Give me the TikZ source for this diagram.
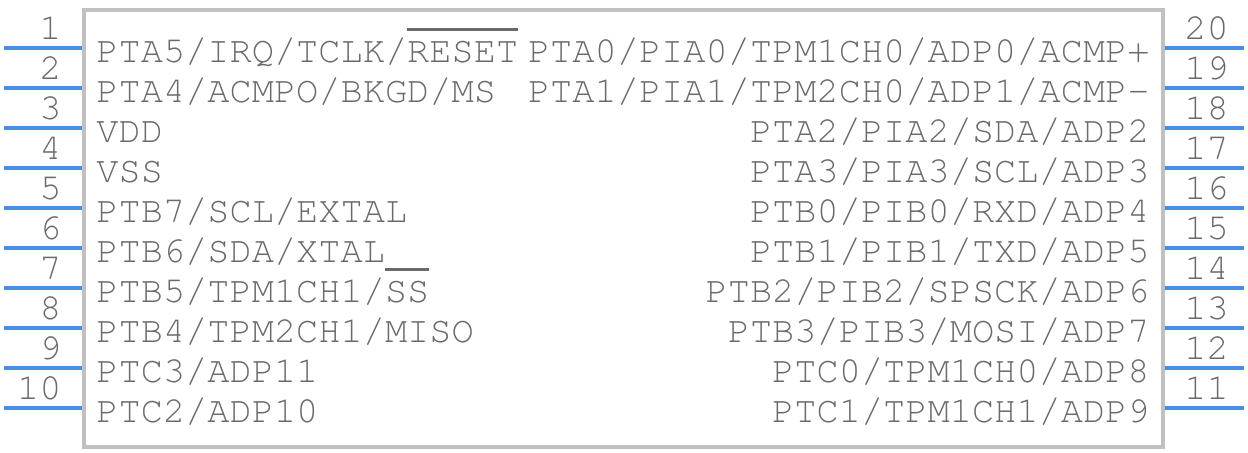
\documentclass[tikz,border=0pt]{standalone}
\usepackage{fontspec}
\newfontfamily\pinfont{TeX Gyre Cursor}
\definecolor{pinblue}{HTML}{4A90E2}
\definecolor{bodygray}{HTML}{C0C0C0}
\definecolor{textgray}{HTML}{6A6A6A}
\newcommand\ovl[1]{\vbox{\hrule height 1.2pt\kern 5pt\hbox{#1}}}

\begin{document}
\begin{tikzpicture}[x=0.5pt,y=-0.5pt,
	pin/.style={pinblue,line width=2pt},
	lbl/.style={textgray,inner sep=0pt,font=\pinfont\fontsize{18.5}{20}\selectfont}]

	\useasboundingbox (0,0) rectangle (1248,452);
	\coordinate (tl) at (84,10);
	\coordinate (br) at (1163,447);
	\draw[bodygray,line width=2pt] (tl) rectangle (br);

	\foreach \i in {1,...,10}{
		\pgfmathsetmacro{\yy}{8+40*\i}
		\pgfmathtruncatemacro{\j}{21-\i}
		\coordinate (p\i a) at (4,\yy);
		\coordinate (p\i b) at (82,\yy);
		\coordinate (p\j a) at (1165,\yy);
		\coordinate (p\j b) at (1244,\yy);
		\draw[pin] (p\i a) -- (p\i b);
		\draw[pin] (p\j a) -- (p\j b);
		\node[lbl,anchor=base east] (n\i) at (62,{\yy-9}) {\i};
		\node[lbl,anchor=base west] (n\j) at (1184,{\yy-9}) {\j};
	}

	\node[lbl,anchor=base west] (l1) at (96,62) {PTA5/IRQ/TCLK/\ovl{RESET}};
	\node[lbl,anchor=base west] (l2) at (96,102) {PTA4/ACMPO/BKGD/MS};
	\node[lbl,anchor=base west] (l3) at (96,142) {VDD};
	\node[lbl,anchor=base west] (l4) at (96,182) {VSS};
	\node[lbl,anchor=base west] (l5) at (96,222) {PTB7/SCL/EXTAL};
	\node[lbl,anchor=base west] (l6) at (96,262) {PTB6/SDA/XTAL};
	\node[lbl,anchor=base west] (l7) at (96,302) {PTB5/TPM1CH1/\ovl{SS}};
	\node[lbl,anchor=base west] (l8) at (96,342) {PTB4/TPM2CH1/MISO};
	\node[lbl,anchor=base west] (l9) at (96,382) {PTC3/ADP11};
	\node[lbl,anchor=base west] (l10) at (96,422) {PTC2/ADP10};

	\node[lbl,anchor=base east] (r20) at (1150,62) {PTA0/PIA0/TPM1CH0/ADP0/ACMP+};
	\node[lbl,anchor=base east] (r19) at (1150,102) {PTA1/PIA1/TPM2CH0/ADP1/ACMP-};
	\node[lbl,anchor=base east] (r18) at (1150,142) {PTA2/PIA2/SDA/ADP2};
	\node[lbl,anchor=base east] (r17) at (1150,182) {PTA3/PIA3/SCL/ADP3};
	\node[lbl,anchor=base east] (r16) at (1150,222) {PTB0/PIB0/RXD/ADP4};
	\node[lbl,anchor=base east] (r15) at (1150,262) {PTB1/PIB1/TXD/ADP5};
	\node[lbl,anchor=base east] (r14) at (1150,302) {PTB2/PIB2/SPSCK/ADP6};
	\node[lbl,anchor=base east] (r13) at (1150,342) {PTB3/PIB3/MOSI/ADP7};
	\node[lbl,anchor=base east] (r12) at (1150,382) {PTC0/TPM1CH0/ADP8};
	\node[lbl,anchor=base east] (r11) at (1150,422) {PTC1/TPM1CH1/ADP9};

\end{tikzpicture}
\end{document}
